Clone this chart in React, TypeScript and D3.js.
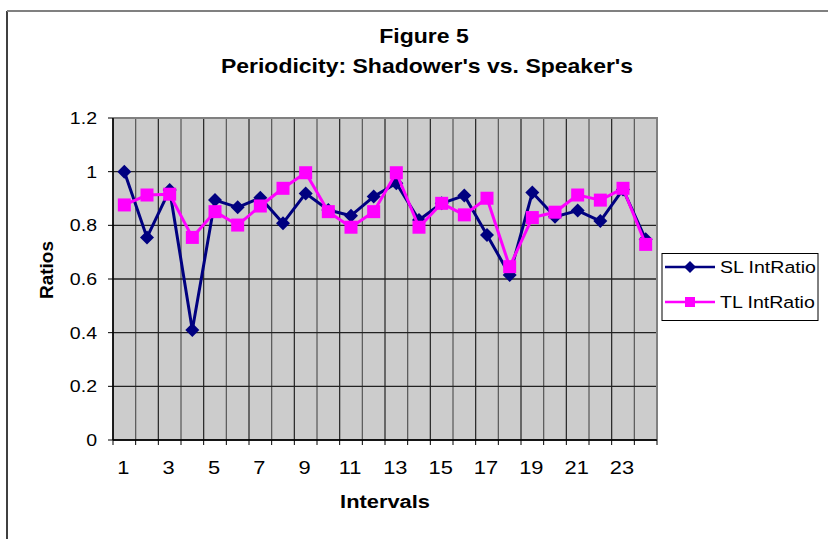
import * as d3 from 'd3';
import type { ReactNode } from 'react';

const intervals = d3.range(1, 25);
const slRatio = [
  1.0, 0.755, 0.932, 0.41, 0.894, 0.867, 0.903, 0.808, 0.919, 0.857, 0.836, 0.907,
  0.957, 0.82, 0.882, 0.911, 0.764, 0.615, 0.922, 0.832, 0.855, 0.816, 0.934, 0.748,
];
const tlRatio = [
  0.876, 0.913, 0.916, 0.755, 0.851, 0.801, 0.872, 0.938, 0.996, 0.851, 0.793, 0.851,
  0.996, 0.793, 0.882, 0.839, 0.901, 0.646, 0.829, 0.849, 0.913, 0.894, 0.938, 0.729,
];
const yTicks = [0, 0.2, 0.4, 0.6, 0.8, 1, 1.2];
const xLabels = [1, 3, 5, 7, 9, 11, 13, 15, 17, 19, 21, 23];

const W = 828;
const H = 539;
const plot = { left: 113, right: 657, top: 118, bottom: 440 };
const font = '"Liberation Sans", Arial, sans-serif';
const navy = '#000080';
const magenta = '#ff00ff';
// the original's text is drawn a bit wider than plain Arial
const stretch = 1.15;

type TxtProps = {
  x: number;
  y: number;
  size: number;
  anchor?: 'start' | 'middle' | 'end';
  bold?: boolean;
  rotate?: number;
  children: ReactNode;
};

function Txt({ x, y, size, anchor = 'start', bold, rotate = 0, children }: TxtProps) {
  return (
    <g transform={`translate(${x},${y}) rotate(${rotate}) scale(${stretch},1)`}>
      <text textAnchor={anchor} fontSize={size} fontWeight={bold ? 'bold' : 'normal'}>
        {children}
      </text>
    </g>
  );
}

function Diamond({ x, y, r }: { x: number; y: number; r: number }) {
  return <path d={`M${x},${y - r}L${x + r},${y}L${x},${y + r}L${x - r},${y}Z`} fill={navy} />;
}

function Square({ x, y, s }: { x: number; y: number; s: number }) {
  return <rect x={x - s / 2} y={y - s / 2} width={s} height={s} fill={magenta} />;
}

export default function App() {
  const x = d3.scaleBand<number>().domain(intervals).range([plot.left, plot.right]).padding(0);
  const cx = (d: number) => x(d)! + x.bandwidth() / 2;
  const y = d3.scaleLinear().domain([0, 1.2]).range([plot.bottom, plot.top]);
  const line = d3
    .line<number>()
    .x((_, i) => cx(intervals[i]))
    .y((v) => y(v));
  const bounds = intervals.map((d) => x(d)!).concat([plot.right]);

  return (
    <svg
      width={W}
      height={H}
      style={{ position: 'absolute', left: 0, top: 0, background: '#fff' }}
      fontFamily={font}
    >
      {/* outer chart frame */}
      <line x1={7} x2={7} y1={11} y2={H} stroke="#000" strokeWidth={1.5} />
      <line x1={7} x2={W} y1={11} y2={11} stroke="#808080" strokeWidth={2} />

      <Txt x={424} y={43} size={20} anchor="middle" bold>
        Figure 5
      </Txt>
      <Txt x={427} y={73} size={20} anchor="middle" bold>
        Periodicity: Shadower's vs. Speaker's
      </Txt>

      <rect
        x={plot.left}
        y={plot.top}
        width={plot.right - plot.left}
        height={plot.bottom - plot.top}
        fill="#cccccc"
      />
      {bounds.map((b, i) => (
        <line key={'v' + i} x1={b} x2={b} y1={plot.top} y2={plot.bottom} stroke={i % 2 ? '#555' : '#222'} strokeWidth={1.2} />
      ))}
      {yTicks.map((t) => (
        <line key={'h' + t} x1={plot.left} x2={plot.right} y1={y(t)} y2={y(t)} stroke="#222" strokeWidth={1.4} />
      ))}
      {/* plot border */}
      <path
        d={`M${plot.left},${plot.top}H${plot.right}V${plot.bottom}`}
        fill="none"
        stroke="#808080"
        strokeWidth={2}
      />

      {/* axes */}
      <line x1={plot.left} x2={plot.left} y1={plot.top} y2={plot.bottom} stroke="#000" strokeWidth={1.5} />
      <line x1={plot.left} x2={plot.right} y1={plot.bottom} y2={plot.bottom} stroke="#000" strokeWidth={1.5} />
      {yTicks.map((t) => (
        <g key={'yt' + t}>
          <line x1={plot.left - 5} x2={plot.left} y1={y(t)} y2={y(t)} stroke="#000" />
          <Txt x={97} y={y(t) + 6} size={17} anchor="end">
            {d3.format('~g')(t)}
          </Txt>
        </g>
      ))}
      {bounds.map((b, i) => (
        <line key={'xt' + i} x1={b} x2={b} y1={plot.bottom} y2={plot.bottom + 5} stroke="#000" />
      ))}
      {xLabels.map((d) => (
        <Txt key={'xl' + d} x={cx(d) - 1} y={474} size={19} anchor="middle">
          {d}
        </Txt>
      ))}
      <Txt x={385} y={508} size={19} anchor="middle" bold>
        Intervals
      </Txt>
      <g transform="translate(53,270) rotate(-90)">
        <text textAnchor="middle" fontSize={19} fontWeight="bold">
          Ratios
        </text>
      </g>

      {/* series */}
      <path d={line(slRatio)!} fill="none" stroke={navy} strokeWidth={3} strokeLinejoin="round" />
      {slRatio.map((v, i) => (
        <Diamond key={'sl' + i} x={cx(intervals[i])} y={y(v)} r={7} />
      ))}
      <path d={line(tlRatio)!} fill="none" stroke={magenta} strokeWidth={3} strokeLinejoin="round" />
      {tlRatio.map((v, i) => (
        <Square key={'tl' + i} x={cx(intervals[i])} y={y(v)} s={13} />
      ))}

      {/* legend */}
      <rect x={662} y={253.5} width={156} height={67} fill="#fff" stroke="#000" strokeWidth={1} />
      <line x1={665} x2={715} y1={267} y2={267} stroke={navy} strokeWidth={2.5} />
      <Diamond x={690} y={267} r={6} />
      <Txt x={720} y={273} size={17}>
        SL IntRatio
      </Txt>
      <line x1={665} x2={715} y1={302} y2={302} stroke={magenta} strokeWidth={2.5} />
      <Square x={690} y={302} s={10} />
      <Txt x={720} y={308} size={17}>
        TL IntRatio
      </Txt>
    </svg>
  );
}
